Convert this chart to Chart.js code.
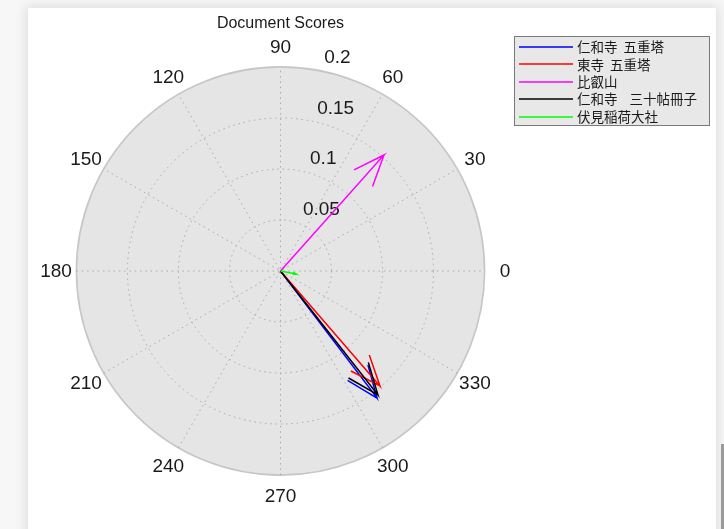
<!DOCTYPE html>
<html>
<head>
<meta charset="utf-8">
<script src="https://cdn.jsdelivr.net/npm/chart.js@4/dist/chart.umd.min.js"></script>
<style>
  html, body { margin: 0; padding: 0; width: 724px; height: 529px; overflow: hidden; background: #f7f7f7; }
  #panel { position: absolute; left: 28px; top: 8px; width: 688px; height: 560px; background: #ffffff;
           box-shadow: 0 0 10px 3px rgba(0,0,0,0.09); }
  #edge { position: absolute; left: 721px; top: 444px; width: 3px; height: 85px; background: #9a9a9a; }
  #c { position: absolute; left: 0; top: 0; }
</style>
</head>
<body>
<div id="panel"></div>
<div id="edge"></div>
<canvas id="c" width="724" height="529"></canvas>
<script>
// ---- data ----
const chartTitle = 'Document Scores';
const seriesNames = ['仁和寺 五重塔', '東寺 五重塔', '比叡山', '仁和寺  三十帖冊子', '伏見稲荷大社'];
const seriesU = [0.0946, 0.0975, 0.1014, 0.0955, 0.0152];   // x components
const seriesV = [-0.1245, -0.1127, 0.1137, -0.1215, -0.0029]; // y components
const angleTicks = [0, 30, 60, 90, 120, 150, 180, 210, 240, 270, 300, 330];
const radialTicks = [0.05, 0.1, 0.15, 0.2];
const radialMax = 0.2;

// ---- styles ----
const seriesColors = ['#0000ff', '#ff0000', '#ff00ff', '#000000', '#00ff00'];

// compass arrow: [0, z, head1, z, head2] (MATLAB compass shape)
function arrowPoints(u, v) {
  return [
    {x: 0, y: 0},
    {x: u, y: v},
    {x: 0.8 * u - 0.08 * v, y: 0.8 * v + 0.08 * u},
    {x: u, y: v},
    {x: 0.8 * u + 0.08 * v, y: 0.8 * v - 0.08 * u}
  ];
}

const datasets = seriesNames.map((name, i) => ({
  label: name,
  data: arrowPoints(seriesU[i], seriesV[i]),
  showLine: true,
  borderColor: seriesColors[i],
  backgroundColor: seriesColors[i],
  borderWidth: 1.5,
  pointRadius: 0,
  tension: 0,
  fill: false,
  order: -i
}));

const polarPlugin = {
  id: 'polarGrid',
  beforeDatasetsDraw(chart) {
    const ctx = chart.ctx;
    const xs = chart.scales.x, ys = chart.scales.y;
    const cx = xs.getPixelForValue(0), cy = ys.getPixelForValue(0);
    const pr = v => xs.getPixelForValue(v) - cx;
    ctx.save();
    // background disc
    ctx.beginPath();
    ctx.arc(cx, cy, pr(radialMax), 0, Math.PI * 2);
    ctx.fillStyle = '#e5e5e5';
    ctx.fill();
    ctx.lineWidth = 1.6;
    ctx.strokeStyle = '#c6c6c6';
    ctx.stroke();
    // dotted circles
    ctx.setLineDash([1.5, 3.8]);
    ctx.lineWidth = 1;
    ctx.strokeStyle = '#aaaaaa';
    radialTicks.forEach(r => {
      if (r >= radialMax) return;
      ctx.beginPath();
      ctx.arc(cx, cy, pr(r), 0, Math.PI * 2);
      ctx.stroke();
    });
    // dotted spokes
    angleTicks.forEach(a => {
      if (a >= 180) return;
      const t = a * Math.PI / 180;
      ctx.beginPath();
      ctx.moveTo(xs.getPixelForValue(-radialMax * Math.cos(t)), ys.getPixelForValue(-radialMax * Math.sin(t)));
      ctx.lineTo(xs.getPixelForValue(radialMax * Math.cos(t)), ys.getPixelForValue(radialMax * Math.sin(t)));
      ctx.stroke();
    });
    ctx.setLineDash([]);
    // angle labels
    ctx.fillStyle = '#1a1a1a';
    ctx.font = '19px "Liberation Sans", Arial, sans-serif';
    ctx.textAlign = 'center';
    ctx.textBaseline = 'middle';
    angleTicks.forEach(a => {
      const t = a * Math.PI / 180;
      const R = radialMax * 1.1;
      ctx.fillText(String(a), xs.getPixelForValue(R * Math.cos(t)), ys.getPixelForValue(R * Math.sin(t)) + 1);
    });
    // radial labels at 82 degrees
    ctx.textAlign = 'left';
    ctx.textBaseline = 'bottom';
    const t82 = 82 * Math.PI / 180;
    radialTicks.forEach(r => {
      const rr = r + 0.05 / 20;
      ctx.fillText(String(r), xs.getPixelForValue(rr * Math.cos(t82)) + 15, ys.getPixelForValue(rr * Math.sin(t82)) + 1);
    });
    ctx.restore();
  },
  afterDraw(chart) {
    const ctx = chart.ctx;
    const xs = chart.scales.x;
    ctx.save();
    // title
    ctx.fillStyle = '#1a1a1a';
    ctx.font = '16px "Liberation Sans", Arial, sans-serif';
    ctx.textAlign = 'center';
    ctx.textBaseline = 'middle';
    ctx.fillText(chartTitle, xs.getPixelForValue(0), 24);
    // legend
    const lx = 514, ly = 36, lw = 195, lh = 89;
    ctx.fillStyle = '#e8e8e8';
    ctx.fillRect(lx + 0.5, ly + 0.5, lw, lh);
    ctx.strokeStyle = '#7a7a7a';
    ctx.lineWidth = 1;
    ctx.strokeRect(lx + 0.5, ly + 0.5, lw, lh);
    ctx.font = '13.5px "Noto Sans CJK JP", sans-serif';
    ctx.textAlign = 'left';
    ctx.textBaseline = 'middle';
    try { ctx.wordSpacing = '3px'; } catch (e) {}
    seriesNames.forEach((name, i) => {
      const y = ly + 11 + i * 17.4;
      ctx.beginPath();
      ctx.lineWidth = 1.6;
      ctx.moveTo(519, Math.round(y));
      ctx.lineTo(573, Math.round(y));
      ctx.strokeStyle = seriesColors[i];
      ctx.stroke();
      ctx.fillStyle = '#1a1a1a';
      ctx.fillText(name, 577, y);
    });
    ctx.restore();
  }
};

new Chart(document.getElementById('c'), {
  type: 'scatter',
  data: { datasets },
  options: {
    responsive: false,
    animation: false,
    layout: { padding: { left: 56, right: 219, top: 46.5, bottom: 33.5 } },
    scales: {
      x: { type: 'linear', min: -0.22, max: 0.22, display: false },
      y: { type: 'linear', min: -0.22, max: 0.22, display: false }
    },
    plugins: { legend: { display: false }, tooltip: { enabled: false }, title: { display: false } }
  },
  plugins: [polarPlugin]
});
</script>
</body>
</html>
